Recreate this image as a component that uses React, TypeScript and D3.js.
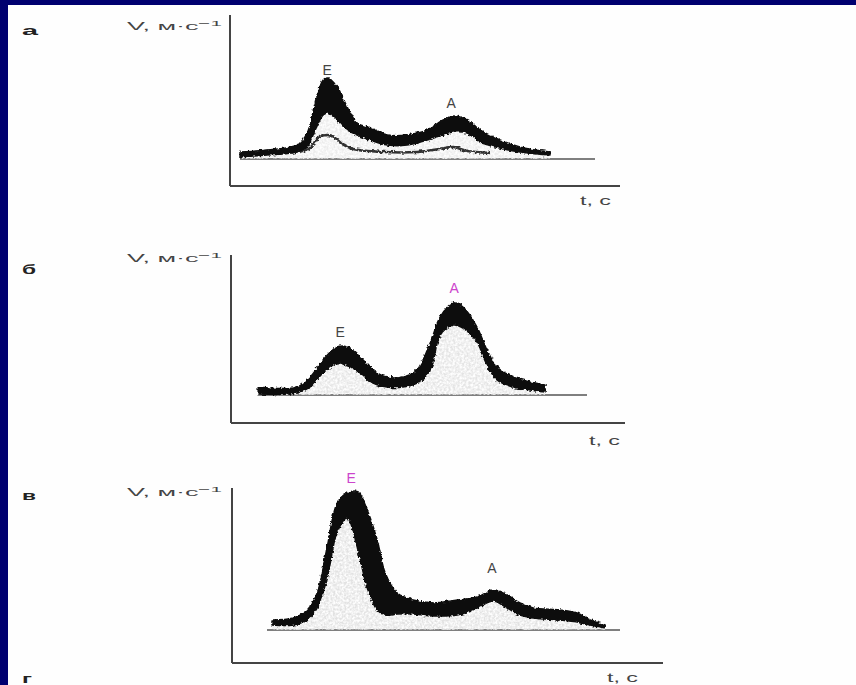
import React from 'react';
import * as d3 from 'd3';

// Doppler transmitral flow spectra: t in seconds, V in m/s above the zero line

// а — E > A
const timeA = [0.025, 0.093, 0.168, 0.193, 0.213, 0.233, 0.245, 0.268, 0.293, 0.318, 0.35, 0.393, 0.443, 0.493, 0.533, 0.558, 0.593, 0.625, 0.675, 0.725, 0.8];
const envelopeA = [0.07, 0.09, 0.14, 0.26, 0.56, 0.79, 0.81, 0.72, 0.52, 0.36, 0.31, 0.24, 0.24, 0.29, 0.39, 0.43, 0.39, 0.29, 0.19, 0.12, 0.07];
const innerA = [0.02, 0.04, 0.07, 0.12, 0.29, 0.44, 0.46, 0.39, 0.29, 0.24, 0.19, 0.14, 0.14, 0.19, 0.24, 0.27, 0.26, 0.17, 0.11, 0.07, 0.04];
const traceTimeA = [0.175, 0.2, 0.22, 0.243, 0.263, 0.28, 0.308, 0.383, 0.468, 0.525, 0.558, 0.593, 0.65];
const traceA = [0.07, 0.11, 0.21, 0.24, 0.21, 0.15, 0.1, 0.07, 0.07, 0.1, 0.12, 0.08, 0.06];

// б — A > E
const timeB = [0.068, 0.165, 0.198, 0.23, 0.265, 0.29, 0.323, 0.355, 0.39, 0.43, 0.465, 0.498, 0.523, 0.555, 0.58, 0.615, 0.64, 0.665, 0.705, 0.748, 0.785];
const envelopeB = [0.08, 0.08, 0.18, 0.35, 0.48, 0.48, 0.38, 0.25, 0.18, 0.18, 0.25, 0.52, 0.78, 0.92, 0.88, 0.68, 0.45, 0.28, 0.18, 0.13, 0.1];
const innerB = [0.01, 0.02, 0.08, 0.22, 0.32, 0.3, 0.22, 0.12, 0.08, 0.08, 0.12, 0.25, 0.6, 0.7, 0.67, 0.53, 0.3, 0.15, 0.08, 0.05, 0.03];

// в — high E, small A
const timeC = [0.1, 0.153, 0.188, 0.213, 0.238, 0.263, 0.288, 0.315, 0.338, 0.363, 0.383, 0.413, 0.453, 0.503, 0.563, 0.613, 0.653, 0.688, 0.72, 0.753, 0.82, 0.863, 0.895, 0.933];
const envelopeC = [0.1, 0.12, 0.2, 0.37, 0.83, 1.27, 1.37, 1.38, 1.2, 0.9, 0.57, 0.37, 0.3, 0.27, 0.3, 0.33, 0.4, 0.35, 0.27, 0.22, 0.2, 0.17, 0.1, 0.05];
const innerC = [0.05, 0.05, 0.1, 0.22, 0.52, 0.98, 1.12, 0.8, 0.42, 0.2, 0.15, 0.16, 0.16, 0.14, 0.15, 0.22, 0.29, 0.22, 0.15, 0.12, 0.1, 0.08, 0.05, 0.02];

const panels = [
  {
    letter: 'а', letterY: 35, letterW: 16,
    axisX: 230, axisTop: 15, axisBottom: 186, axisRight: 620,
    baseY: 159, base0: 0.025, base1: 0.9125,
    vLabelY: 30, tLabelX: 580, tLabelY: 205,
    time: timeA, envelope: envelopeA, inner: innerA, fillColor: '#ececec',
    trace: { time: traceTimeA, v: traceA },
    labels: [
      { text: 'E', t: 0.243, v: 0.84, color: '#444' },
      { text: 'A', t: 0.553, v: 0.51, color: '#444' },
    ],
  },
  {
    letter: 'б', letterY: 274, letterW: 14,
    axisX: 231, axisTop: 255, axisBottom: 423, axisRight: 625,
    baseY: 395, base0: 0.0675, base1: 0.89,
    vLabelY: 262, tLabelX: 589, tLabelY: 445,
    time: timeB, envelope: envelopeB, inner: innerB, fillColor: '#e4e4e4',
    trace: null,
    labels: [
      { text: 'E', t: 0.273, v: 0.58, color: '#444' },
      { text: 'A', t: 0.558, v: 1.02, color: '#cc44cc' },
    ],
  },
  {
    letter: 'в', letterY: 500, letterW: 14,
    axisX: 232, axisTop: 488, axisBottom: 663, axisRight: 663,
    baseY: 630, base0: 0.0875, base1: 0.97,
    vLabelY: 496, tLabelX: 607, tLabelY: 682,
    time: timeC, envelope: envelopeC, inner: innerC, fillColor: '#e2e2e2',
    trace: null,
    labels: [
      { text: 'E', t: 0.298, v: 1.47, color: '#cc44cc' },
      { text: 'A', t: 0.65, v: 0.57, color: '#444' },
    ],
  },
];

const font = '"Liberation Sans", Arial, sans-serif';

const Panel: React.FC<{ p: (typeof panels)[number] }> = ({ p }) => {
  const x = d3.scaleLinear().domain([0, 1]).range([p.axisX, p.axisX + 400]);
  const y = d3.scaleLinear().domain([0, 1]).range([p.baseY, p.baseY - 100]);
  const idx = p.time.map((_, i) => i);

  const band = d3.area<number>()
    .x(i => x(p.time[i]))
    .y0(i => y(p.inner[i]))
    .y1(i => y(p.envelope[i]))
    .curve(d3.curveCatmullRom);

  const fill = d3.area<number>()
    .x(i => x(p.time[i]))
    .y0(() => y(0))
    .y1(i => y(p.inner[i]))
    .curve(d3.curveCatmullRom);

  const traceLine = p.trace
    ? d3.line<number>()
        .x(i => x(p.trace!.time[i]))
        .y(i => y(p.trace!.v[i]))
        .curve(d3.curveCatmullRom)(p.trace.time.map((_, i) => i))
    : null;

  return (
    <g>
      <text x={22} y={p.letterY} fontFamily={font} fontWeight="bold" fontSize={13}
        textLength={p.letterW} lengthAdjust="spacingAndGlyphs" fill="#222">{p.letter}</text>
      <text x={127} y={p.vLabelY} fontFamily={font} fontSize={10.5} fill="#444"
        textLength={95} lengthAdjust="spacingAndGlyphs">
        V, м·с<tspan dy={-4} fontSize={8}>−1</tspan>
      </text>
      <text x={p.tLabelX} y={p.tLabelY} fontFamily={font} fontSize={12} fill="#444"
        textLength={31} lengthAdjust="spacingAndGlyphs">t, с</text>

      {/* axes */}
      <line x1={p.axisX} x2={p.axisX} y1={p.axisTop} y2={p.axisBottom} stroke="#444" strokeWidth={2} />
      <line x1={p.axisX} x2={p.axisRight} y1={p.axisBottom} y2={p.axisBottom} stroke="#444" strokeWidth={2} />
      {/* zero line */}
      <line x1={x(p.base0)} x2={x(p.base1)} y1={y(0)} y2={y(0)} stroke="#555" strokeWidth={1.5} />

      <path d={fill(idx) || ''} fill={p.fillColor} filter="url(#grain)" />
      {traceLine && <path d={traceLine} fill="none" stroke="#333" strokeWidth={2.5} filter="url(#rough)" />}
      <path d={band(idx) || ''} fill="#111" stroke="#111" strokeWidth={1.5} strokeLinejoin="round" filter="url(#rough)" />

      {p.labels.map(l => (
        <text key={l.text} x={x(l.t)} y={y(l.v)} textAnchor="middle" fontFamily={font}
          fontSize={14} fill={l.color}>{l.text}</text>
      ))}
    </g>
  );
};

export default function App() {
  return (
    <svg width={856} height={685} style={{ position: 'absolute', left: 0, top: 0, display: 'block' }}>
      <defs>
        <filter id="rough" x="-5%" y="-30%" width="110%" height="160%">
          <feTurbulence type="fractalNoise" baseFrequency="0.35" numOctaves="2" seed="3" result="n" />
          <feDisplacementMap in="SourceGraphic" in2="n" scale="4" xChannelSelector="R" yChannelSelector="G" result="d" />
          <feGaussianBlur in="d" stdDeviation="0.5" />
        </filter>
        <filter id="grain" x="0" y="0" width="100%" height="100%">
          <feTurbulence type="fractalNoise" baseFrequency="0.45" numOctaves="2" seed="7" result="n" />
          <feColorMatrix in="n" type="matrix"
            values="0 0 0 0 0  0 0 0 0 0  0 0 0 0 0  0 0 0 -2.2 1.6" result="a" />
          <feComposite in="SourceGraphic" in2="a" operator="in" />
        </filter>
      </defs>
      <rect width={856} height={685} fill="#fefefe" />
      <rect x={0} y={0} width={856} height={5} fill="#000070" />
      <rect x={0} y={0} width={8} height={685} fill="#000070" />
      {panels.map(p => <Panel key={p.letter} p={p} />)}
      <text x={22} y={683} fontFamily={font} fontWeight="bold" fontSize={13}
        textLength={10} lengthAdjust="spacingAndGlyphs" fill="#222">г</text>
    </svg>
  );
}
